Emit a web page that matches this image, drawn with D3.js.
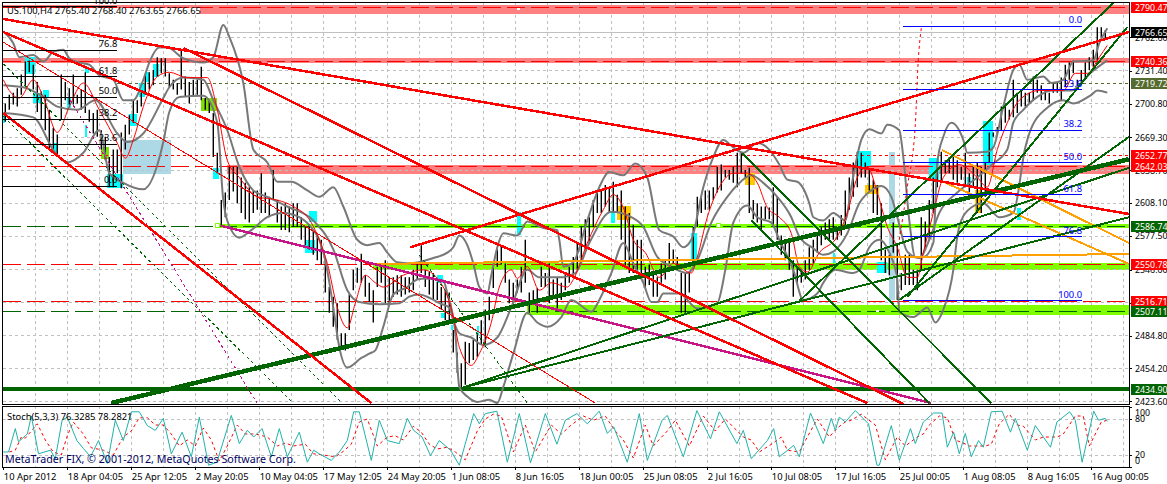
<!DOCTYPE html>
<html>
<head>
<meta charset="utf-8">
<style>
  html, body { margin: 0; padding: 0; background: #fff; overflow: hidden; }
  text { font-family: "Noto Sans", sans-serif; font-size: 9.4px; }
</style>
<script src="https://cdn.jsdelivr.net/npm/d3@7"></script>
</head>
<body>
<div id="chart"></div>
<script>
const tickLabels = ['10 Apr 2012','18 Apr 04:05','25 Apr 12:05','2 May 20:05','10 May 04:05','17 May 12:05','24 May 20:05','1 Jun 08:05','8 Jun 16:05','18 Jun 00:05','25 Jun 08:05','2 Jul 16:05','10 Jul 08:05','17 Jul 16:05','25 Jul 00:05','1 Aug 08:05','8 Aug 16:05','16 Aug 00:05']
const priceTicks = [2762.6,2731.4,2700.8,2669.3,2638.7,2608.1,2577.5,2546.0,2515.4,2484.8,2454.2,2423.6]

// bar highs and lows, one per 4h bar on screen
const highs = [2701,2709,2711,2715,2728,2740,2741,2737,2721,2712,2709,2695,2678,2672,2728,2721,2715,2728,2709,2714,2730,2695,2692,2695,2676,2670,2651,2658,2658,2674,2681,2690,2704,2704,2711,2728,2730,2732,2744,2743,2743,2729,2723,2720,2751,2726,2721,2723,2723,2735,2706,2704,2692,2655,2611,2618,2642,2642,2642,2632,2627,2623,2620,2620,2636,2618,2614,2639,2611,2605,2608,2605,2608,2608,2595,2586,2588,2583,2578,2574,2555,2530,2521,2515,2487,2487,2523,2546,2548,2561,2541,2534,2527,2549,2552,2555,2539,2539,2541,2541,2539,2539,2546,2553,2569,2546,2544,2543,2535,2530,2527,2525,2490,2469,2459,2479,2478,2481,2487,2499,2509,2521,2549,2565,2569,2552,2537,2534,2537,2549,2574,2525,2527,2529,2549,2543,2552,2537,2539,2534,2543,2549,2558,2571,2586,2593,2595,2611,2620,2620,2625,2623,2628,2616,2620,2605,2599,2588,2574,2574,2549,2551,2543,2539,2552,2555,2571,2565,2558,2543,2543,2543,2586,2614,2614,2620,2620,2623,2642,2644,2639,2639,2642,2655,2655,2639,2641,2611,2608,2605,2605,2604,2623,2614,2578,2574,2571,2555,2549,2546,2555,2567,2574,2581,2586,2590,2593,2595,2586,2597,2620,2632,2646,2656,2655,2646,2639,2630,2625,2608,2565,2560,2590,2571,2543,2560,2560,2546,2546,2595,2591,2611,2632,2642,2656,2648,2651,2651,2648,2642,2655,2636,2642,2646,2642,2646,2674,2674,2679,2698,2701,2695,2723,2711,2714,2711,2711,2726,2723,2718,2714,2711,2720,2720,2725,2737,2739,2741,2723,2732,2739,2744,2751,2772,2772,2769]
const lows = [2684,2695,2700,2698,2709,2718,2730,2714,2693,2686,2676,2658,2656,2653,2686,2704,2700,2700,2701,2695,2692,2684,2673,2670,2658,2648,2623,2623,2636,2622,2658,2672,2683,2692,2698,2709,2714,2718,2726,2729,2726,2716,2714,2709,2714,2707,2701,2707,2709,2704,2695,2692,2651,2636,2587,2595,2611,2619,2608,2599,2593,2590,2599,2602,2599,2599,2595,2611,2590,2583,2583,2581,2586,2586,2574,2569,2565,2560,2555,2551,2525,2506,2493,2481,2473,2471,2490,2527,2534,2534,2521,2516,2497,2530,2534,2515,2515,2521,2523,2521,2523,2525,2527,2537,2543,2530,2523,2518,2518,2509,2499,2498,2469,2450,2437,2439,2459,2462,2465,2476,2474,2499,2529,2549,2551,2534,2515,2515,2525,2525,2534,2506,2515,2506,2530,2530,2515,2521,2509,2518,2527,2534,2539,2546,2555,2565,2571,2586,2599,2599,2605,2599,2599,2599,2574,2549,2543,2543,2543,2541,2530,2532,2521,2521,2534,2537,2552,2552,2546,2506,2506,2525,2555,2586,2599,2602,2602,2611,2618,2620,2632,2630,2627,2623,2636,2632,2599,2593,2590,2583,2593,2593,2586,2574,2560,2555,2546,2521,2534,2534,2537,2546,2552,2562,2569,2574,2574,2574,2574,2578,2586,2602,2614,2623,2632,2632,2620,2599,2597,2555,2543,2541,2562,2518,2527,2532,2532,2532,2527,2546,2565,2574,2599,2623,2628,2636,2636,2630,2627,2630,2623,2618,2623,2599,2599,2614,2646,2670,2672,2676,2683,2686,2688,2692,2698,2698,2701,2704,2711,2704,2704,2701,2711,2711,2704,2716,2723,2729,2716,2720,2723,2732,2735,2741,2762,2762]

// indicator lines as [bar, price]
const bbUpper = [[0,2768],[2.5,2757],[4,2744],[7.5,2746],[10,2740],[12.5,2749],[15,2751],[16.5,2743],[19,2739],[21.5,2737],[24,2727],[27.5,2723],[30,2704],[32.5,2704],[35,2723],[36.5,2739],[39,2753],[41,2753],[45,2743],[50,2739],[52.5,2744],[55,2774],[56.5,2763],[60,2720],[62.5,2658],[66,2646],[68.5,2628],[72,2628],[76,2620],[79,2614],[82.5,2623],[85,2605],[88.5,2574],[91,2569],[94,2571],[96,2562],[98.5,2553],[101.5,2552],[107.5,2557],[111,2562],[112.5,2567],[114,2578],[116,2569],[117.5,2552],[119,2530],[121,2524],[122,2541],[123.5,2567],[125,2580],[128.5,2578],[131,2591],[135,2585],[138.5,2583],[139,2574],[140,2549],[142.5,2553],[146,2592],[149,2623],[151.5,2637],[155,2634],[158,2645],[161,2632],[164,2583],[167.5,2577],[170,2567],[172,2574],[175,2623],[177.5,2651],[180,2667],[182.5,2660],[185,2655],[188.5,2664],[191.5,2658],[194,2644],[196,2630],[198.5,2628],[201.5,2608],[202.5,2595],[205,2592],[207.5,2599],[210.5,2592],[212,2623],[214.5,2667],[216.5,2677],[219.5,2673],[221,2681],[224,2676],[225,2651],[226.5,2592],[228,2558],[230,2558],[232.5,2571],[233.5,2646],[235,2670],[237,2683],[240,2667],[241,2655],[246,2656],[247.5,2660],[250,2698],[252.5,2732],[254,2737],[256,2723],[260,2726],[262,2720],[265,2723],[267.5,2740],[272.5,2741],[274,2757],[276,2771]]
const bbMiddle = [[0,2718],[5,2716],[10,2707],[13.5,2698],[18.5,2695],[23,2704],[28.5,2673],[31,2665],[35,2673],[40,2706],[41.5,2716],[45,2725],[50,2723],[52.5,2704],[56,2676],[59,2642],[62.5,2620],[66,2614],[71,2605],[77.5,2592],[82.5,2565],[86,2527],[89,2516],[94,2514],[99,2515],[101.5,2521],[104,2523],[106.5,2520],[109,2515],[111.5,2511],[112.5,2499],[114,2487],[117,2483],[120,2476],[123.5,2483],[127,2511],[131,2546],[134,2539],[139,2539],[143,2543],[146.5,2571],[152,2600],[157,2595],[160,2586],[163.5,2558],[167,2549],[171,2543],[173.5,2555],[177,2590],[181,2614],[183.5,2625],[187,2634],[190,2627],[193.5,2614],[197,2595],[199,2577],[202.5,2566],[205,2560],[207.5,2563],[211,2580],[214,2608],[217,2620],[219.5,2624],[222,2614],[223.5,2595],[226,2563],[229,2557],[231.5,2574],[234,2599],[238.5,2618],[243.5,2632],[247.5,2645],[251,2658],[252.5,2683],[255,2695],[258.5,2707],[262,2713],[267,2713],[272,2730],[276,2741]]
const bbLower = [[0,2692],[7.5,2688],[13,2655],[16,2646],[20,2655],[24,2676],[26.5,2636],[30,2627],[35,2621],[40,2665],[41.5,2693],[44,2707],[50,2708],[53.5,2683],[55,2611],[57,2583],[59,2576],[62,2583],[66,2595],[70,2599],[74,2595],[77.5,2583],[79,2574],[80.5,2555],[82.5,2511],[84,2474],[86,2455],[89.5,2464],[91.5,2468],[93,2471],[95,2493],[97.5,2523],[101,2530],[103.5,2537],[105.5,2538],[110,2536],[111,2524],[113,2487],[114,2437],[116,2428],[118.5,2423],[121.5,2425],[123.5,2422],[125,2437],[127.5,2468],[131,2506],[133.5,2497],[136,2493],[139.5,2502],[142,2518],[147,2507],[149,2518],[152,2543],[155,2571],[157.5,2552],[160,2534],[162,2516],[163.5,2516],[165,2524],[169,2524],[173.5,2510],[178.5,2515],[180.5,2546],[182.5,2590],[186,2606],[188.5,2595],[192,2590],[194,2574],[197.5,2546],[200,2518],[203.5,2524],[205,2534],[208,2546],[212.5,2543],[214,2546],[216.5,2567],[219,2574],[221.5,2562],[223.5,2537],[224,2507],[227.5,2502],[231,2511],[233,2497],[235,2509],[237.5,2546],[238.5,2577],[239.5,2592],[242,2604],[245,2608],[249,2595],[252.5,2599],[255.5,2660],[256.5,2673],[261,2697],[265,2704],[267.5,2701],[272,2709],[273.5,2713],[276,2711]]
const maLine = [[0,2723],[1.5,2713],[4,2706],[7.5,2723],[10,2707],[13.5,2674],[16.5,2698],[20,2720],[24,2695],[28.5,2664],[30.5,2650],[32.5,2667],[35,2698],[38.5,2726],[41.5,2730],[46,2725],[51,2725],[53.5,2695],[56,2648],[59,2632],[63.5,2614],[68.5,2611],[72.5,2605],[77,2590],[79,2574],[81,2552],[83.5,2511],[86,2492],[88,2515],[90.5,2541],[93,2534],[95,2530],[100,2541],[105,2546],[110,2530],[112.5,2502],[114,2474],[117,2457],[119,2468],[122,2497],[124,2530],[127,2546],[128.5,2538],[131,2549],[134,2527],[137,2534],[141,2530],[142.5,2537],[146,2571],[150,2602],[152.5,2616],[155,2604],[157.5,2574],[160.5,2562],[164,2539],[167.5,2552],[172,2543],[173.5,2558],[176,2595],[179,2623],[182.5,2636],[186,2636],[188.5,2627],[191,2604],[194,2595],[197,2580],[199,2549],[201,2544],[204,2562],[208.5,2577],[211,2599],[213.5,2632],[216,2642],[218.5,2618],[221,2586],[223.5,2567],[226,2539],[228.5,2539],[230,2562],[232.5,2599],[235,2632],[239,2644],[243.5,2632],[246,2623],[248.5,2658],[251,2683],[254,2704],[259,2713],[265,2713],[268,2729],[271,2729],[274,2744],[276,2755]]

// stochastic pane as [bar, value]
const stochMain = [[0,25],[1.3,25],[3,64],[3.8,42],[6,55],[7,85],[8.8,22],[11.8,28],[13,14],[14.7,78],[16,83],[18.4,44],[20,31],[21.8,17],[23.8,44],[26,6],[28,78],[30,44],[32,92],[34,92],[36,69],[38,61],[40,81],[42,22],[44.7,58],[47,17],[49,83],[51.3,3],[53.4,8],[57,86],[59,39],[61,61],[62.6,50],[64.7,64],[67,17],[69,64],[71,17],[74,58],[76,8],[77.6,28],[79,22],[82,11],[84,25],[86,44],[87.6,92],[89,92],[92,11],[94,78],[96,44],[99,39],[101,81],[102.6,61],[104.7,50],[106.8,19],[109,44],[111.8,28],[114,3],[117.6,89],[119,72],[120.5,89],[123.4,93],[126,8],[129,89],[131.8,7],[135.5,89],[138.4,38],[140.5,78],[143.4,89],[146,72],[149,93],[151,56],[152.6,67],[156,8],[159,89],[161,11],[164.7,78],[166,86],[170,17],[173.4,94],[176.8,47],[179,92],[183.4,39],[185,61],[187,14],[191,44],[192.6,64],[194,17],[197.6,36],[199,17],[201.8,90],[205,39],[207,81],[208,61],[209,83],[210.5,75],[213,94],[216.3,72],[218.4,3],[219,3],[222,69],[224,11],[226.8,64],[228,39],[230,75],[232.6,90],[234.7,90],[236,33],[237.6,58],[239,22],[240.5,56],[242,17],[243.8,44],[245,33],[247,92],[249.7,93],[251.8,58],[253,81],[256,28],[258,69],[261.8,33],[263.4,75],[266.6,92],[268,78],[269.7,8],[272.6,93],[273.8,78],[275.5,81],[276,76]]
const stochSignal = [[1.5,25],[3,28],[4.5,50],[5.5,48],[7,60],[8.5,72],[10.5,45],[12.5,25],[14.5,20],[16,52],[17.5,75],[20,55],[22,32],[25,28],[27.5,20],[30,50],[32,60],[34,82],[36,82],[38,70],[40,70],[42,55],[44,35],[46,45],[48,35],[50,65],[52,45],[54,10],[56,35],[58.5,70],[60.5,55],[63,55],[66,50],[68.5,35],[70.5,40],[72.5,35],[75.5,38],[77.5,22],[80,20],[83,17],[85,26],[87,38],[89,75],[91,80],[93.5,35],[96,50],[98,52],[100,45],[102.5,68],[104.5,58],[106.5,38],[108.5,30],[111,33],[113,25],[115.5,12],[118.5,60],[120.5,80],[122.5,88],[124.5,85],[127.5,25],[130.5,70],[133,25],[137,70],[139.5,55],[142,70],[145,85],[147.5,78],[150.5,85],[153,60],[155,45],[157.5,15],[160.5,70],[162.5,35],[166,60],[168,78],[171.5,35],[175,85],[178,60],[180.5,80],[185,50],[187,45],[189,25],[192.5,40],[194.5,50],[196,28],[199,25],[201,50],[203.5,80],[206.5,50],[208.5,65],[210.5,75],[212,78],[214.5,88],[218,70],[220.5,12],[223.5,50],[225.5,35],[228.5,50],[230,55],[231.5,70],[234,85],[236,82],[238,45],[240,40],[241.5,35],[243.5,35],[245.5,35],[247,38],[249,72],[251.5,88],[253.5,70],[255,68],[258,45],[260,50],[263.5,50],[265,55],[268,85],[270,85],[271.5,35],[274.5,75],[276,78]]

// rectangles: [barFrom, barTo, priceTop, priceBottom]
const cyanBoxes = [[5.5,8,2744,2728],[7.5,9.5,2711,2701],[10,11.5,2713,2706],[0,0.5,2692,2683],[20.5,21,2681,2670],[16,17,2706,2697],[20.5,21.5,2735,2729],[12.5,13.5,2664,2654],[31.5,33.5,2691,2680],[34,35.5,2720,2707],[35.5,36.5,2730,2721],[37.5,39,2738,2726],[26,30,2635,2622],[52.5,54,2641,2631],[76.5,78.5,2601,2591],[75.5,78,2574,2562],[109.5,110.5,2506,2501],[112,112.5,2495,2490],[118.5,119,2494,2485],[108.5,110,2541,2534],[128.5,129.5,2600,2578],[152,153,2600,2590],[172,173.5,2580,2555],[213.5,217,2657,2642],[231.5,234,2650,2630],[245,247.5,2685,2644],[241,242,2632,2625],[253.5,254.5,2604,2592],[218.5,221,2553,2543],[207.5,208,2562,2552]]
const limeBoxes = [[49.5,53.5,2706,2694],[24.5,26.5,2660,2649]]
const goldBoxes = [[153.5,157,2605,2592],[185.5,188,2636,2625],[215.5,219,2625,2617],[243,244.5,2620,2599]]
const paleBoxes = [[30,42,2667,2635],[221.5,223,2656,2518]]

// price bands: [barFrom, priceTop, priceBottom]
const pinkBands = [[0,2793,2784],[0,2743.3,2738.6],[56,2643.7,2635.6]]
const greenBands = [[53.5,2588.7,2585],[92.5,2552.4,2546],[131,2513,2504]]

// horizontal levels
const redDashed = [2790.47,2740.36,2642.03,2550.78,2516.71]
const redDotted = [2652.77]
const greenDashed = [2586.74,2507.11]
const oliveLevel = [2719.72]
const bidLevel = [2766.65]
const solidGreen = [2434.90]

// fibonacci levels
const fibBlack = [[2790.8,'100.0'],[2750.7,'76.8'],[2725.9,'61.8'],[2706.7,'50.0'],[2686.2,'38.2'],[2662.9,'23.6'],[2623.8,'0.0']]
const fibBlue = [[2773,'0.0'],[2713.5,'23.6'],[2676,'38.2'],[2645.5,'50.0'],[2615.8,'61.8'],[2577,'76.8'],[2517.3,'100.0']]

// trend lines: [bar, price, bar, price]
const redThick = [[0,2779.6,281.4,2598],[45,2752.6,225,2421],[0,2767.5,216,2422],[0,2692,92,2422],[101.7,2567,281.4,2767.5]]
const redThin = [[0,2758,148,2422]]
const magentaLine = [[54.5,2587,232,2422]]
const greenFat = [[27,2422,281.4,2649]]
const greenLines = [[114.5,2436,281.4,2641],[114.5,2436,281.4,2595],[199,2517,277.5,2794.5],[226,2520.8,281,2772],[224,2518,281.4,2669.7],[184.7,2654.8,247,2422],[187,2592.5,231.5,2422]]
const orangeLines = [[234.7,2657.6,281.4,2571],[235,2628,281.4,2551.5],[93,2551.5,281.4,2560.8]]
const greenDotted = [[0,2737.7,84.7,2422],[0,2689,72.5,2422],[104,2560,131,2422]]
const magentaDotted = [[16.7,2704,63.4,2422]]
const redCurveDash = [[229.5,2771],[228.7,2738.6],[228,2681],[226,2623],[224,2574]]
const anchors = [[53.5,2587],[178.7,2587]]
const whiteDots = [[128.7,2789],[218.5,2508]]

// right axis boxes: [price, fill]
const priceBoxes = [[2790.47,'#ff0000'],[2766.65,'#000000'],[2740.36,'#ff0000'],[2719.72,'#556b2f'],[2652.77,'#ff0000'],[2642.03,'#ff0000'],[2586.74,'#006400'],[2550.78,'#ff0000'],[2516.71,'#ff0000'],[2507.11,'#006400'],[2434.90,'#006400']]

const dimensions = { width: 1167, height: 484, left: 3, right: 1129, mainTop: 3, mainBottom: 404, subTop: 406, subBottom: 467 }

const svg = d3.select('#chart').append('svg')
  .attr('width', dimensions.width)
  .attr('height', dimensions.height)
  .style('display', 'block')

const xScale = d3.scaleLinear().domain([0, 281.5]).range([3.3, 1129.3])
const yScale = d3.scaleLinear().domain([2790.47, 2423.6]).range([7.3, 401.3])
const stochScale = d3.scaleLinear().domain([0, 100]).range([467, 407])

svg.append('defs').append('clipPath').attr('id', 'mainClip').append('rect')
  .attr('x', dimensions.left).attr('y', dimensions.mainTop)
  .attr('width', dimensions.right - dimensions.left).attr('height', dimensions.mainBottom - dimensions.mainTop)
svg.select('defs').append('clipPath').attr('id', 'subClip').append('rect')
  .attr('x', dimensions.left).attr('y', dimensions.subTop)
  .attr('width', dimensions.right - dimensions.left).attr('height', dimensions.subBottom - dimensions.subTop)

// vertical grid, every 8 bars
const gridBars = d3.range(8, 282, 8)
const grid = svg.append('g').attr('stroke', '#c0c0c0').attr('stroke-dasharray', '3,3').attr('shape-rendering', 'crispEdges')
grid.selectAll('.v1').data(gridBars).join('line').attr('class', 'v1')
  .attr('x1', xScale).attr('x2', xScale).attr('y1', dimensions.mainTop).attr('y2', dimensions.mainBottom)
grid.selectAll('.v2').data(gridBars).join('line').attr('class', 'v2')
  .attr('x1', xScale).attr('x2', xScale).attr('y1', dimensions.subTop).attr('y2', dimensions.subBottom)
grid.selectAll('.h2').data([80, 20]).join('line').attr('class', 'h2')
  .attr('x1', dimensions.left).attr('x2', dimensions.right).attr('y1', stochScale).attr('y2', stochScale)

const main = svg.append('g').attr('clip-path', 'url(#mainClip)')

const drawBoxes = (data, fill) => {
  main.append('g').attr('shape-rendering', 'crispEdges').selectAll('rect').data(data).join('rect')
    .attr('x', d => xScale(d[0]))
    .attr('width', d => xScale(d[1]) - xScale(d[0]))
    .attr('y', d => yScale(d[2]))
    .attr('height', d => yScale(d[3]) - yScale(d[2]))
    .attr('fill', fill)
}
drawBoxes(paleBoxes, '#add8e6')

const drawBands = (data, fill) => {
  main.append('g').attr('shape-rendering', 'crispEdges').selectAll('rect').data(data).join('rect')
    .attr('x', d => xScale(d[0]))
    .attr('width', d => dimensions.right - xScale(d[0]))
    .attr('y', d => yScale(d[1]))
    .attr('height', d => yScale(d[2]) - yScale(d[1]))
    .attr('fill', fill)
}
drawBands(pinkBands, '#ff8080')
drawBands(greenBands, '#7fff00')

// horizontal grid runs over the bands
main.append('g').attr('stroke', '#c0c0c0').attr('stroke-dasharray', '3,3').attr('shape-rendering', 'crispEdges')
  .selectAll('line').data(priceTicks).join('line')
  .attr('x1', dimensions.left).attr('x2', dimensions.right).attr('y1', yScale).attr('y2', yScale)

drawBoxes(cyanBoxes, '#00ffff')
drawBoxes(limeBoxes, '#7fdf00')
drawBoxes(goldBoxes, '#ffc800')

const drawLevels = (data, color, dash, width = 1) => {
  main.append('g').attr('shape-rendering', 'crispEdges').selectAll('line').data(data).join('line')
    .attr('x1', dimensions.left).attr('x2', dimensions.right)
    .attr('y1', yScale).attr('y2', yScale)
    .attr('stroke', color).attr('stroke-width', width)
    .attr('stroke-dasharray', dash)
}
drawLevels(bidLevel, '#c0c0c0', null)
drawLevels(redDashed, '#ff0000', '18,6')
drawLevels(redDotted, '#ff0000', '3,3')
drawLevels(greenDashed, '#006400', '18,6')
drawLevels(solidGreen, '#006400', null, 4)
main.append('g').selectAll('line').data(oliveLevel).join('line')
  .attr('shape-rendering', 'crispEdges')
  .attr('x1', xScale(28.5)).attr('x2', dimensions.right)
  .attr('y1', yScale).attr('y2', yScale)
  .attr('stroke', '#556b2f').attr('stroke-dasharray', '3,3')

// bars
main.append('g').attr('stroke', '#000')
  .selectAll('line').data(highs).join('line')
  .attr('x1', (d, i) => xScale(i + 0.5))
  .attr('x2', (d, i) => xScale(i + 0.5))
  .attr('y1', d => yScale(d))
  .attr('y2', (d, i) => yScale(lows[i]))
  .attr('stroke-width', 1.4)

// indicators
const pointLine = d3.line().x(d => xScale(d[0])).y(d => yScale(d[1])).curve(d3.curveMonotoneX)
const drawPath = (data, color, width, dash) => {
  main.append('path').datum(data)
    .attr('d', pointLine)
    .attr('fill', 'none').attr('stroke', color).attr('stroke-width', width)
    .attr('stroke-dasharray', dash)
}
drawPath(bbUpper, '#787878', 2)
drawPath(bbMiddle, '#787878', 2)
drawPath(bbLower, '#787878', 2)
drawPath(maLine, '#ff0000', 1)
drawPath(redCurveDash, '#ff0000', 1, '3,3')

const drawTrends = (data, color, width, dash) => {
  main.append('g').attr('shape-rendering', 'crispEdges').selectAll('line').data(data).join('line')
    .attr('x1', d => xScale(d[0])).attr('y1', d => yScale(d[1]))
    .attr('x2', d => xScale(d[2])).attr('y2', d => yScale(d[3]))
    .attr('stroke', color).attr('stroke-width', width).attr('stroke-dasharray', dash)
}
drawTrends(greenDotted, '#006400', 1, '3,3')
drawTrends(magentaDotted, '#c71585', 1, '3,3')
drawTrends(orangeLines, '#ff9f00', 2)
drawTrends(magentaLine, '#c71585', 2.5)
drawTrends(greenFat, '#006400', 4.5)
drawTrends(greenLines, '#006400', 2)
drawTrends(redThin, '#ff0000', 1)
drawTrends(redThick, '#ff0000', 2.5)

// anchors and small points
main.append('g').attr('shape-rendering', 'crispEdges').selectAll('rect').data(anchors).join('rect')
  .attr('x', d => xScale(d[0]) - 2).attr('y', d => yScale(d[1]) - 2)
  .attr('width', 4).attr('height', 4)
  .attr('fill', '#fff').attr('stroke', '#7fff00')
main.append('g').attr('shape-rendering', 'crispEdges').selectAll('rect').data(whiteDots).join('rect')
  .attr('x', d => xScale(d[0]) - 1).attr('y', d => yScale(d[1]) - 1)
  .attr('width', 3).attr('height', 2).attr('fill', '#fff')

// fibonacci lines with labels, the labels may rise above the pane
const drawFib = (data, from, to, color) => {
  const g = svg.append('g')
  g.selectAll('line').data(data).join('line')
    .attr('shape-rendering', 'crispEdges')
    .attr('x1', xScale(from)).attr('x2', xScale(to))
    .attr('y1', d => yScale(d[0])).attr('y2', d => yScale(d[0]))
    .attr('stroke', color)
  g.selectAll('text').data(data).join('text')
    .attr('x', xScale(to)).attr('y', d => yScale(d[0]) - 3)
    .attr('text-anchor', 'end').attr('fill', color)
    .text(d => d[1])
}
drawFib(fibBlack, 0, 28.5, '#000')
drawFib(fibBlue, 225, 269.7, '#0000ff')

// title over its white patch
svg.append('rect').attr('x', 3).attr('y', 8).attr('width', 197).attr('height', 7).attr('fill', '#fff')
svg.append('text').attr('x', 7).attr('y', 14).attr('fill', '#000')
  .text('US.100,H4  2765.40 2768.40 2763.65 2766.65')

// stochastic pane
const stochLine = d3.line().x(d => xScale(d[0])).y(d => stochScale(d[1]))
const sub = svg.append('g').attr('clip-path', 'url(#subClip)')
sub.append('path').datum(stochSignal).attr('d', stochLine)
  .attr('fill', 'none').attr('stroke', '#ff0000').attr('stroke-width', 1).attr('stroke-dasharray', '3,3')
sub.append('path').datum(stochMain).attr('d', stochLine)
  .attr('fill', 'none').attr('stroke', '#20b2aa').attr('stroke-width', 1)

svg.append('text').attr('x', 7).attr('y', 420).attr('fill', '#000')
  .text('Stoch(5,3,3) 76.3285 78.2821')
svg.append('text').attr('x', 5).attr('y', 463).attr('fill', '#000060')
  .style('font-size', '10.7px')
  .text('MetaTrader FIX, © 2001-2012, MetaQuotes Software Corp.')

// frames
const frames = svg.append('g').attr('fill', 'none').attr('stroke', '#000').attr('shape-rendering', 'crispEdges')
frames.append('rect').attr('x', 2.5).attr('y', 2.5).attr('width', dimensions.right - 2.5).attr('height', dimensions.mainBottom - 2.5)
frames.append('rect').attr('x', 2.5).attr('y', dimensions.subTop).attr('width', dimensions.right - 2.5).attr('height', dimensions.subBottom - dimensions.subTop)

// axes
const priceAxis = d3.axisRight(yScale).tickValues(priceTicks).tickFormat(d3.format('.2f')).tickSize(3).tickPadding(3)
const priceAxisGroup = svg.append('g').attr('transform', `translate(${dimensions.right}, 0)`).call(priceAxis)
  .call(g => g.select('.domain').remove())

const stochAxis = d3.axisRight(stochScale).tickValues([100, 80, 20, 0]).tickSize(3).tickPadding(3)
const stochAxisGroup = svg.append('g').attr('transform', `translate(${dimensions.right}, 0)`).call(stochAxis)
  .call(g => g.select('.domain').remove())
  .call(g => g.selectAll('.tick text').attr('y', d => d === 100 ? 6 : d === 0 ? -6 : 0))

const timeAxis = d3.axisBottom(xScale)
  .tickValues(tickLabels.map((d, i) => i * 16))
  .tickFormat((d, i) => tickLabels[i]).tickSize(3).tickPadding(3)
svg.append('g').attr('transform', `translate(0, ${dimensions.subBottom})`).call(timeAxis)
  .call(g => g.select('.domain').remove())
  .call(g => g.selectAll('.tick text').attr('text-anchor', 'start'))

svg.selectAll('.tick text').attr('fill', '#000').style('font-family', '"Noto Sans", sans-serif').style('font-size', '9.4px')
priceAxisGroup.selectAll('.tick text').style('font-size', '8.8px')
stochAxisGroup.selectAll('.tick text').style('font-size', '8.8px')
svg.selectAll('.tick line').attr('stroke', '#000').attr('shape-rendering', 'crispEdges')

// price tags over the axis
const tags = svg.append('g').selectAll('g').data(priceBoxes).join('g')
  .attr('transform', d => `translate(1131, ${yScale(d[0])})`)
tags.append('rect').attr('x', 0).attr('y', -5.5).attr('width', 36).attr('height', 11).attr('fill', d => d[1]).attr('shape-rendering', 'crispEdges')
tags.append('text').attr('x', 4).attr('y', 3.5).attr('fill', '#fff').style('font-size', '8.8px').text(d => d[0].toFixed(2))
</script>
</body>
</html>
